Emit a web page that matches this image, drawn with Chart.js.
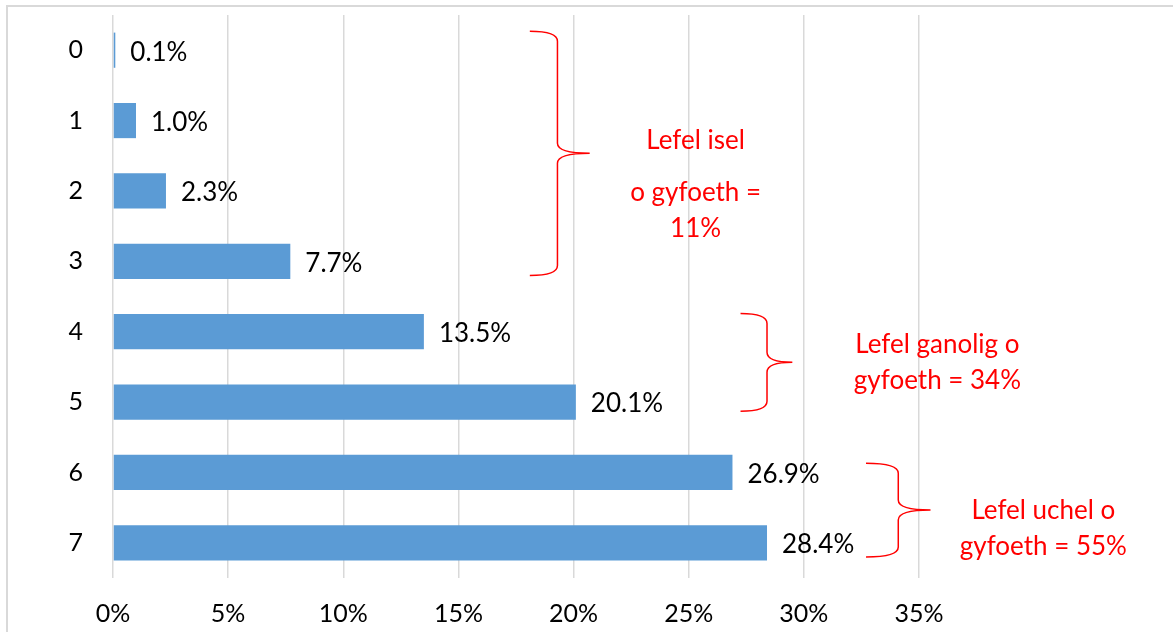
<!DOCTYPE html>
<html>
<head>
<meta charset="utf-8">
<script src="https://cdn.jsdelivr.net/npm/chart.js@4/dist/chart.umd.min.js"></script>
<style>
  html, body { margin: 0; padding: 0; background: #fff; }
  #wrap { position: relative; width: 1173px; height: 632px; }
</style>
</head>
<body>
<div id="wrap"><canvas id="myChart" width="1173" height="632"></canvas></div>
<script>
// wealth score 0..7 and share of respondents (%)
const categories = ["0", "1", "2", "3", "4", "5", "6", "7"];
const shares = [0.1, 1.0, 2.3, 7.7, 13.5, 20.1, 26.9, 28.4];
const xTicks = [0, 5, 10, 15, 20, 25, 30, 35];

// red braces grouping the scores (from/to category, x in % units)
const groups = [
  { from: -0.27, to: 3.2, tip: 18.1, spine: 19.3, point: 20.7,
    textX: 25.3, lines: ["Lefel isel", "o gyfoeth =", "11%"], lineY: [1.28, 2.03, 2.54] },
  { from: 3.74, to: 5.13, tip: 27.25, spine: 28.4, point: 29.5,
    textX: 35.8, lines: ["Lefel ganolig o", "gyfoeth = 34%"], lineY: [4.19, 4.69] },
  { from: 5.87, to: 7.2, tip: 32.7, spine: 34.1, point: 35.5,
    textX: 40.4, lines: ["Lefel uchel o", "gyfoeth = 55%"], lineY: [6.54, 7.06] }
];

const FONT = "Lato, 'Open Sans', sans-serif";

const extras = {
  id: "extras",
  beforeDraw(chart) {
    const ctx = chart.ctx;
    ctx.save();
    ctx.fillStyle = "#fff";
    ctx.fillRect(0, 0, chart.width, chart.height);
    // outer frame (only top and left visible)
    ctx.strokeStyle = "#d9d9d9";
    ctx.lineWidth = 2;
    ctx.beginPath();
    ctx.moveTo(7, chart.height);
    ctx.lineTo(7, 6);
    ctx.lineTo(chart.width, 6);
    ctx.stroke();
    ctx.restore();
  },
  afterDraw(chart) {
    const ctx = chart.ctx;
    const xs = chart.scales.x, ys = chart.scales.y;
    ctx.save();

    // value labels
    const meta = chart.getDatasetMeta(0);
    ctx.font = "26px " + FONT;
    ctx.fillStyle = "#000";
    ctx.textAlign = "left";
    ctx.textBaseline = "middle";
    meta.data.forEach((bar, i) => {
      ctx.fillText(shares[i].toFixed(1) + "%", bar.x + 15, bar.y + 2);
    });

    // braces and group texts
    const band = ys.getPixelForValue(1) - ys.getPixelForValue(0);
    const catY = c => ys.getPixelForValue(0) + c * band;
    ctx.strokeStyle = "#ff0000";
    ctx.lineWidth = 1.5;
    groups.forEach(g => {
      const y0 = catY(g.from), y1 = catY(g.to), ym = (y0 + y1) / 2;
      const xt = xs.getPixelForValue(g.tip), xsp = xs.getPixelForValue(g.spine), xp = xs.getPixelForValue(g.point);
      const r = 10;
      ctx.beginPath();
      ctx.moveTo(xt, y0);
      ctx.quadraticCurveTo(xsp, y0, xsp, y0 + r);
      ctx.lineTo(xsp, ym - r);
      ctx.quadraticCurveTo(xsp, ym, xp, ym);
      ctx.moveTo(xp, ym);
      ctx.quadraticCurveTo(xsp, ym, xsp, ym + r);
      ctx.lineTo(xsp, y1 - r);
      ctx.quadraticCurveTo(xsp, y1, xt, y1);
      ctx.stroke();

      ctx.fillStyle = "#ff0000";
      ctx.font = "26px " + FONT;
      ctx.textAlign = "center";
      g.lines.forEach((t, k) => ctx.fillText(t, xs.getPixelForValue(g.textX), catY(g.lineY[k])));
    });
    ctx.restore();
  }
};

const ctx = document.getElementById("myChart");
new Chart(ctx, {
  type: "bar",
  data: {
    labels: categories,
    datasets: [{
      data: shares,
      backgroundColor: "#5b9bd5",
      borderWidth: 0,
      categoryPercentage: 1,
      barPercentage: 0.5
    }]
  },
  options: {
    indexAxis: "y",
    responsive: false,
    animation: false,
    layout: { padding: { top: 15, right: 254, left: 0, bottom: 0 } },
    plugins: { legend: { display: false }, tooltip: { enabled: false } },
    scales: {
      x: {
        min: 0,
        max: 35,
        afterBuildTicks(axis) { axis.ticks = xTicks.map(v => ({ value: v })); },
        afterFit(axis) { axis.height = 54; axis.paddingLeft = 0; axis.paddingRight = 0; },
        ticks: {
          color: "#000",
          font: { family: FONT, size: 25 },
          padding: 21,
          maxRotation: 0,
          callback: v => v + "%"
        },
        grid: { color: "#d9d9d9", lineWidth: 1.5, drawTicks: false },
        border: { display: false }
      },
      y: {
        afterFit(axis) { axis.width = 113; axis.paddingTop = 0; axis.paddingBottom = 0; },
        ticks: { color: "#000", font: { family: FONT, size: 25 }, padding: 30 },
        grid: { display: false, drawTicks: false },
        border: { display: false }
      }
    }
  },
  plugins: [extras]
});
</script>
</body>
</html>
